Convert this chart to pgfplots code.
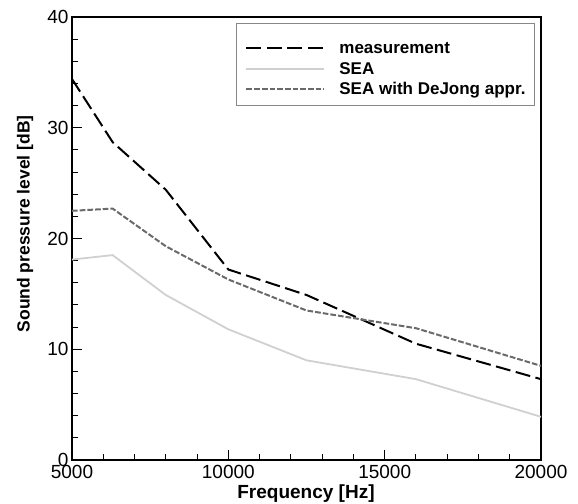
\documentclass[border=0pt]{standalone}
\usepackage{fontspec}
\setmainfont{Liberation Sans}
\usepackage{pgfplots}
\pgfplotsset{compat=1.18}
\definecolor{seagray}{HTML}{D0D0D0}
\definecolor{djgray}{HTML}{6A6A6A}
\definecolor{leggray}{HTML}{888888}
\begin{document}
\begin{tikzpicture}
\path[use as bounding box] (-72bp,-44bp) rectangle (506bp,460bp);
\begin{axis}[at={(0bp,0bp)}, anchor=south west, scale only axis,
  width=469bp, height=443bp,
  xmin=5000, xmax=20000, ymin=0, ymax=40,
  xtick={5000,10000,15000,20000}, minor x tick num=4,
  ytick={0,10,20,30,40}, minor y tick num=4,
  tick align=inside, xtick pos=bottom, ytick pos=left,
  major tick length=10bp, minor tick length=6bp,
  every tick/.style={black, line width=1bp},
  axis line style={line width=1.6bp},
  scaled x ticks=false,
  /pgf/number format/assume math mode=true,
  /pgf/number format/1000 sep={},
  ticklabel style={font=\fontsize{19bp}{22bp}\selectfont},
  xticklabel style={yshift=-2bp},
  xlabel={Frequency [Hz]},
  ylabel={Sound pressure level [dB]},
  xlabel style={font=\bfseries\fontsize{19bp}{22bp}\selectfont, at={(axis description cs:0.4989,-0.0767)}, anchor=center},
  ylabel style={font=\bfseries\fontsize{17.5bp}{20bp}\selectfont, at={(axis description cs:-0.1002,0.533)}, anchor=center},
  legend style={at={(axis description cs:0.3497,0.9865)}, anchor=north west,
    draw=leggray, line width=0.8bp,
    font=\bfseries\fontsize{17bp}{20bp}\selectfont,
    inner xsep=9bp, inner ysep=7bp, column sep=14bp, row sep=4.7bp,
    nodes={inner sep=0pt, text height=12bp, text depth=4bp},
    cells={anchor=base west}},
  legend image code/.code={\draw[#1] (0bp,5.3bp) -- (78bp,5.3bp);},
]
\addplot[black, line width=2bp, dash pattern=on 15bp off 5.5bp] coordinates {
 (5000,34.4) (6300,28.7) (8000,24.4) (10000,17.2) (12500,14.9) (16000,10.5) (20000,7.3)};
\addlegendentry[text height=23bp]{measurement}
\addplot[seagray, line width=1.8bp] coordinates {
 (5000,18.1) (6300,18.5) (8000,14.9) (10000,11.8) (12500,9.0) (16000,7.3) (20000,3.9)};
\addlegendentry{SEA}
\addplot[djgray, line width=2bp, dash pattern=on 5.7bp off 2bp] coordinates {
 (5000,22.5) (6300,22.7) (8000,19.3) (10000,16.3) (12500,13.5) (16000,11.9) (20000,8.5)};
\addlegendentry{SEA with DeJong appr.}
\end{axis}
\end{tikzpicture}
\end{document}
